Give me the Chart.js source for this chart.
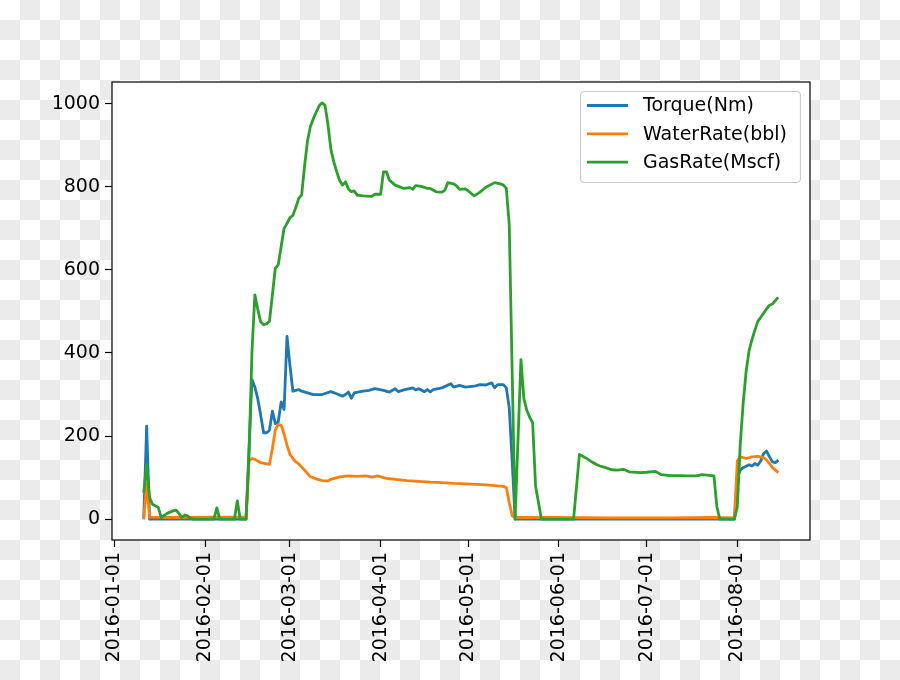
<!DOCTYPE html>
<html>
<head>
<meta charset="utf-8">
<script src="https://cdn.jsdelivr.net/npm/chart.js@4.4.1/dist/chart.umd.min.js"></script>
<style>
  html, body { margin: 0; padding: 0; }
  body {
    width: 900px; height: 680px; overflow: hidden;
    background: repeating-conic-gradient(#ebebeb 0 25%, #ffffff 0 50%) 0 0 / 40px 40px;
  }
  #wrap { width: 900px; height: 680px; }
</style>
</head>
<body>
<div id="wrap"><canvas id="chart" width="900" height="680"></canvas></div>
<script>
// x positions are days since 2016-01-01
const monthTicks = ['2016-01-01', '2016-02-01', '2016-03-01', '2016-04-01',
                    '2016-05-01', '2016-06-01', '2016-07-01', '2016-08-01'];
const yTicks = [0, 200, 400, 600, 800, 1000];

const torqueDays = [10, 11, 12, 45, 46, 47, 48, 49, 50, 51, 52, 53, 54, 55, 56, 57, 58, 59, 60, 61, 62, 63, 64, 66,
  68, 71, 74, 76, 78, 79, 80, 81, 82, 85, 87, 89, 92, 94, 96, 97, 99, 102, 103, 104, 106, 107, 108, 109,
  112, 115, 116, 118, 120, 123, 125, 127, 129, 130, 131, 133, 134, 135, 136, 137, 212, 213, 214, 215,
  217, 218, 219, 220, 221, 222, 223, 224, 225, 226, 227];
const torqueValues = [0, 224, 0, 0, 170, 336, 318, 290, 250, 208, 208, 214, 260, 230, 234, 282, 264, 440, 370, 308, 310, 312, 308, 304,
  300, 300, 307, 302, 296, 300, 306, 291, 304, 308, 310, 314, 310, 306, 314, 307, 311, 316, 311, 314, 307, 312, 306, 312,
  316, 326, 318, 322, 318, 320, 324, 323, 328, 316, 324, 324, 316, 268, 140, 0, 0, 100, 118, 124,
  131, 128, 134, 130, 140, 158, 164, 150, 138, 136, 142];

const waterDays = [10, 11, 12, 20, 30, 40, 45, 46, 47, 48, 50, 53, 54, 55, 56, 57, 58, 59, 60, 61, 62, 63, 65, 67,
  69, 71, 73, 74, 77, 80, 83, 86, 88, 90, 93, 96, 100, 104, 108, 112, 116, 120, 124, 128, 131, 133, 134, 135,
  136, 137, 150, 170, 190, 205, 212, 213, 214, 216, 218, 220, 222, 223, 224, 225, 226, 227];
const waterValues = [0, 85, 5, 4, 5, 5, 5, 140, 146, 144, 136, 132, 170, 215, 228, 226, 205, 178, 156, 146, 138, 133, 118, 102,
  97, 93, 92, 96, 102, 104, 103, 104, 101, 104, 98, 96, 93, 91, 89, 88, 86, 85, 84, 82, 80, 79, 76, 40,
  8, 4, 4, 3, 3, 4, 3, 140, 150, 146, 150, 151, 148, 142, 134, 124, 118, 112];

const gasDays = [10, 11, 12, 13, 14, 15, 16, 18, 20, 21, 22, 23, 24, 25, 26, 27, 34, 35, 36, 41, 42, 43, 45, 46,
  47, 48, 49, 50, 51, 52, 53, 55, 56, 58, 59, 60, 61, 62, 63, 64, 65, 66, 67, 68, 69, 70, 71, 72, 73, 74, 75,
  76, 77, 78, 79, 80, 81, 82, 83, 85, 88, 89, 91, 92, 93, 94, 96, 99, 101, 102, 103, 105, 107, 108, 110, 112,
  113, 114, 116, 117, 118, 120, 121, 123, 125, 127, 130, 132, 133, 134, 135, 137, 139, 140, 141, 142, 143,
  144, 146, 157, 159, 161, 163, 165, 166, 168, 170, 172, 174, 176, 180, 182, 185, 187, 190, 194, 196, 199,
  201, 205, 206, 207, 212, 213, 214, 215, 216, 217, 218, 219, 220, 221, 222, 223, 224, 225, 226, 227];
const gasValues = [64, 132, 52, 36, 32, 28, 4, 14, 20, 22, 14, 4, 10, 8, 2, 0, 0, 27, 0, 0, 44, 0, 0, 150,
  400, 540, 505, 475, 468, 470, 476, 604, 612, 700, 712, 726, 731, 750, 772, 780, 850, 910, 945, 964, 980, 995, 1002, 996, 950, 890, 860,
  836, 815, 804, 812, 795, 788, 790, 780, 778, 777, 782, 782, 836, 836, 816, 804, 796, 798, 794, 803, 801, 796, 796, 788, 787,
  792, 810, 807, 802, 794, 795, 790, 778, 787, 799, 810, 807, 804, 796, 708, 0, 384, 290, 262, 245, 232,
  80, 0, 0, 156, 148, 139, 131, 128, 124, 119, 118, 120, 114, 112, 113, 115, 107, 105, 105, 104, 104,
  107, 104, 30, 0, 0, 30, 180, 280, 355, 405, 432, 455, 476, 486, 496, 506, 515, 518, 526, 534];

const START = Date.UTC(2016, 0, 1);
const dayOf = s => (Date.parse(s) - START) / 86400000;
const monthDays = monthTicks.map(dayOf);

const toPoints = (days, vals) => days.map((d, i) => ({ x: d, y: vals[i] }));

// white axes face
const facePlugin = {
  id: 'face',
  beforeDraw(chart) {
    const { ctx, chartArea: a } = chart;
    ctx.save();
    ctx.fillStyle = '#ffffff';
    ctx.fillRect(a.left, a.top, a.right - a.left, a.bottom - a.top);
    ctx.restore();
  }
};

// axes frame + matplotlib-like legend in upper right
const frameLegendPlugin = {
  id: 'frameLegend',
  afterDraw(chart) {
    const { ctx, chartArea: a } = chart;
    ctx.save();
    ctx.strokeStyle = '#000000';
    ctx.lineWidth = 1.2;
    ctx.strokeRect(a.left, a.top, a.right - a.left, a.bottom - a.top);

    const bx = 580.5, by = 91.5, bw = 220, bh = 91;
    ctx.beginPath();
    ctx.roundRect(bx, by, bw, bh, 4);
    ctx.fillStyle = 'rgba(255,255,255,0.8)';
    ctx.fill();
    ctx.strokeStyle = '#cccccc';
    ctx.lineWidth = 1.2;
    ctx.stroke();

    ctx.font = '19px "DejaVu Sans"';
    ctx.textBaseline = 'middle';
    ctx.fillStyle = '#000000';
    chart.data.datasets.forEach((ds, i) => {
      const y = 105.5 + i * 28.3;
      ctx.beginPath();
      ctx.moveTo(587, y);
      ctx.lineTo(628, y);
      ctx.strokeStyle = ds.borderColor;
      ctx.lineWidth = 2.8;
      ctx.stroke();
      ctx.fillText(ds.label, 643, y + 1);
    });
    ctx.restore();
  }
};

const tickFont = { family: 'DejaVu Sans', size: 19 };

new Chart(document.getElementById('chart'), {
  type: 'line',
  data: {
    datasets: [
      { label: 'Torque(Nm)', data: toPoints(torqueDays, torqueValues), borderColor: '#1f77b4', order: 3 },
      { label: 'WaterRate(bbl)', data: toPoints(waterDays, waterValues), borderColor: '#ff7f0e', order: 2 },
      { label: 'GasRate(Mscf)', data: toPoints(gasDays, gasValues), borderColor: '#2ca02c', order: 1 }
    ]
  },
  options: {
    responsive: false,
    animation: false,
    devicePixelRatio: 1,
    layout: { padding: { left: 52, top: 82, right: 90, bottom: 0 } },
    elements: {
      line: { borderWidth: 2.8, tension: 0, borderJoinStyle: 'round', fill: false },
      point: { radius: 0 }
    },
    plugins: {
      legend: { display: false },
      tooltip: { enabled: false }
    },
    scales: {
      x: {
        type: 'linear',
        min: -0.85,
        max: 237.85,
        afterFit: s => { s.height = 140; },
        afterBuildTicks: s => { s.ticks = monthDays.map(v => ({ value: v })); },
        grid: { drawOnChartArea: false, drawTicks: true, tickLength: 7, tickColor: '#000', tickWidth: 1.2 },
        border: { display: false },
        ticks: {
          autoSkip: false, minRotation: 90, maxRotation: 90, padding: 5,
          color: '#000', font: tickFont,
          callback: (v, i) => monthTicks[i]
        }
      },
      y: {
        min: -50.1,
        max: 1052.2,
        afterFit: s => { s.width = 60; },
        afterBuildTicks: s => { s.ticks = yTicks.map(v => ({ value: v })); },
        grid: { drawOnChartArea: false, drawTicks: true, tickLength: 7, tickColor: '#000', tickWidth: 1.2 },
        border: { display: false },
        ticks: { padding: 5, color: '#000', font: tickFont, callback: v => String(v) }
      }
    }
  },
  plugins: [facePlugin, frameLegendPlugin]
});
</script>
</body>
</html>
